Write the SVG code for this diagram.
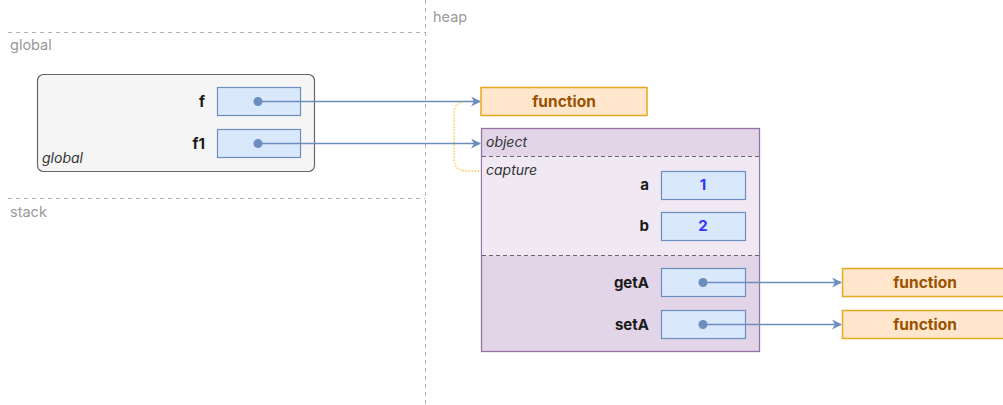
<svg xmlns="http://www.w3.org/2000/svg" width="1003" height="405" viewBox="0 0 1003 405">
  <defs>
    <marker id="arrow" viewBox="0 0 10 10" refX="9" refY="5" markerWidth="10" markerHeight="10" markerUnits="userSpaceOnUse" orient="auto">
      <path d="M0,0 L10,5 L0,10 L3,5 Z" fill="#6c8ebf"/>
    </marker>
    <style>
      .sep { stroke: #b3b3b3; stroke-width: 1; stroke-dasharray: 4 4; fill: none; }
      .area { font-family: Inter, "Liberation Sans", sans-serif; font-size: 14.5px; fill: #999999; }
      .field { fill: #dae8fc; stroke: #6c8ebf; stroke-width: 1.2; }
      .key { font-family: Inter, "Liberation Sans", sans-serif; font-size: 15px; font-weight: bold; fill: #1a1a1a; text-anchor: end; }
      .val { font-family: Inter, "Liberation Sans", sans-serif; font-size: 15px; font-weight: bold; fill: #3333ff; text-anchor: middle; }
      .fn { fill: #ffe6cc; stroke: #e6a91e; stroke-width: 1.5; }
      .fnText { font-family: Inter, "Liberation Sans", sans-serif; font-size: 15.5px; font-weight: bold; fill: #995200; text-anchor: middle; }
      .ital { font-family: Inter, "Liberation Sans", sans-serif; font-size: 14px; font-style: italic; fill: #333333; }
      .dot { fill: #6c8ebf; }
      .link { stroke: #6c8ebf; stroke-width: 1.6; fill: none; marker-end: url(#arrow); }
    </style>
  </defs>
  <rect width="1003" height="405" fill="#ffffff"/>

  <!-- memory region separators -->
  <g id="regions">
    <line class="sep" x1="425.5" y1="0" x2="425.5" y2="405"/>
    <line class="sep" x1="8" y1="32.5" x2="425" y2="32.5"/>
    <line class="sep" x1="8" y1="198.5" x2="425" y2="198.5"/>
    <text class="area" x="433" y="22">heap</text>
    <text class="area" x="10" y="50">global</text>
    <text class="area" x="10" y="217">stack</text>
  </g>

  <!-- global scope -->
  <g id="global">
    <rect x="37.5" y="74.5" width="277" height="97" rx="6" fill="#f5f5f5" stroke="#666666" stroke-width="1.2"/>
    <text class="ital" x="42" y="163">global</text>
    <text class="key" x="205" y="107">f</text>
    <rect class="field" x="217.5" y="87.5" width="83" height="28"/>
    <text class="key" x="205" y="149">f1</text>
    <rect class="field" x="217.5" y="129.5" width="83" height="28"/>
  </g>

  <!-- function referenced by f -->
  <g id="fn-f">
    <rect class="fn" x="481" y="87.5" width="166" height="28"/>
    <text class="fnText" x="564" y="107">function</text>
  </g>

  <!-- object with captured variables -->
  <g id="object">
    <rect x="481.5" y="128.5" width="278" height="223" fill="#e1d5e7" stroke="#9673a6" stroke-width="1.3"/>
    <rect x="482.1" y="156.5" width="276.8" height="99" fill="#f0e8f3"/>
    <line x1="482" y1="156.5" x2="759" y2="156.5" stroke="#666666" stroke-width="1" stroke-dasharray="4 3"/>
    <line x1="482" y1="255.5" x2="759" y2="255.5" stroke="#666666" stroke-width="1" stroke-dasharray="4 3"/>
    <text class="ital" x="486" y="147">object</text>
    <text class="ital" x="486" y="175">capture</text>
    <text class="key" x="649" y="190">a</text>
    <rect class="field" x="661.5" y="171.5" width="84" height="28"/>
    <text class="val" x="703" y="190">1</text>
    <text class="key" x="649" y="231">b</text>
    <rect class="field" x="661.5" y="212.5" width="84" height="28"/>
    <text class="val" x="703" y="231">2</text>
    <text class="key" x="649" y="288">getA</text>
    <rect class="field" x="661.5" y="268.5" width="84" height="28"/>
    <text class="key" x="649" y="330">setA</text>
    <rect class="field" x="661.5" y="310.5" width="84" height="28"/>
  </g>

  <!-- functions referenced by getA / setA -->
  <g id="fn-getA">
    <rect class="fn" x="842.5" y="268.5" width="170" height="28"/>
    <text class="fnText" x="925" y="288">function</text>
  </g>
  <g id="fn-setA">
    <rect class="fn" x="842.5" y="310.5" width="170" height="28"/>
    <text class="fnText" x="925" y="330">function</text>
  </g>

  <!-- references -->
  <g id="connectors">
    <path d="M476,101.5 L467,101.5 Q454,101.5 454,114 L454,158 Q454,171 467,171 L481,171" fill="none" stroke="#f2c94c" stroke-width="1.3" stroke-dasharray="1.5 1.5"/>
    <path class="link" d="M258,101.5 L480,101.5"/>
    <path class="link" d="M258,143.5 L480,143.5"/>
    <path class="link" d="M703,282.5 L841,282.5"/>
    <path class="link" d="M703,324.5 L841,324.5"/>
    <circle class="dot" cx="258" cy="101.5" r="4.5"/>
    <circle class="dot" cx="258" cy="143.5" r="4.5"/>
    <circle class="dot" cx="703" cy="282.5" r="4.5"/>
    <circle class="dot" cx="703" cy="324.5" r="4.5"/>
  </g>
</svg>
